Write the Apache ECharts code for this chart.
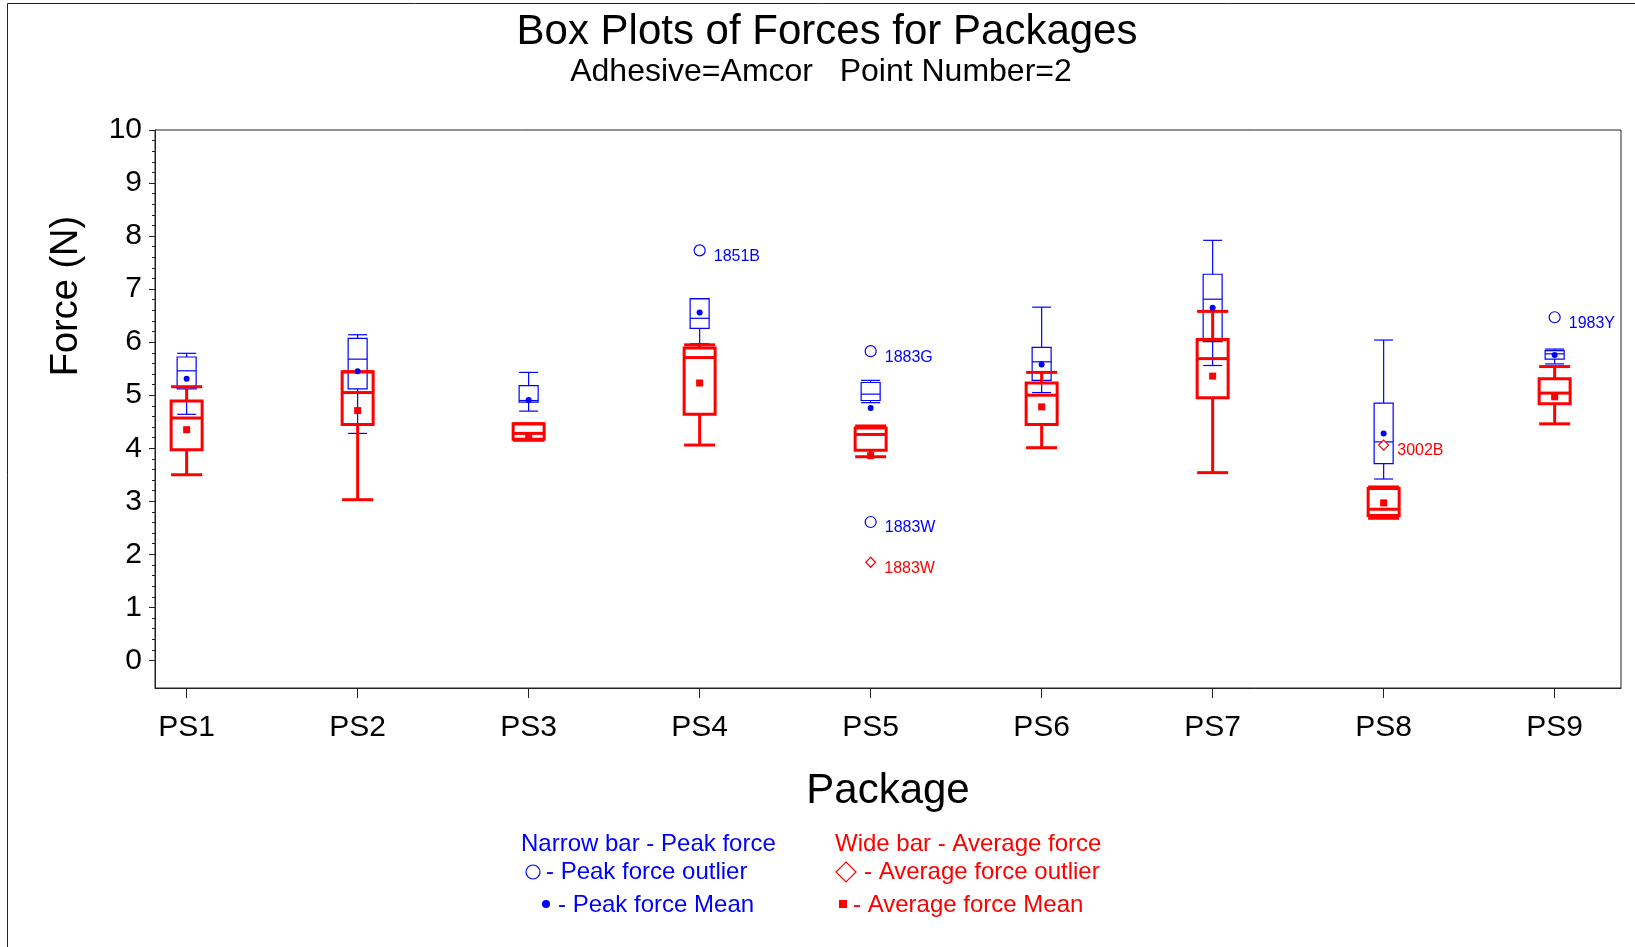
<!DOCTYPE html>
<html>
<head>
<meta charset="utf-8">
<title>Box Plots of Forces for Packages</title>
<script src="https://cdn.jsdelivr.net/npm/echarts@6/dist/echarts.min.js"></script>
<style>
html, body { margin: 0; padding: 0; background: #fff; }
#chart { width: 1635px; height: 947px; }
</style>
</head>
<body>
<div id="chart"></div>
<script>
var packages = ['PS1', 'PS2', 'PS3', 'PS4', 'PS5', 'PS6', 'PS7', 'PS8', 'PS9'];
var yTicks = [0, 1, 2, 3, 4, 5, 6, 7, 8, 9, 10];

// peak force (narrow blue bars): whisker low, Q1, median, Q3, whisker high, mean
var peakLow  = [4.64, 4.28, 4.70, 5.97, 4.86, 5.05, 5.56, 3.42, 5.59];
var peakQ1   = [5.12, 5.12, 4.87, 6.26, 4.90, 5.28, 6.01, 3.71, 5.68];
var peakMed  = [5.46, 5.68, 4.90, 6.45, 5.02, 5.63, 6.81, 4.12, 5.78];
var peakQ3   = [5.72, 6.07, 5.18, 6.82, 5.24, 5.90, 7.28, 4.85, 5.84];
var peakHigh = [5.79, 6.14, 5.43, 6.82, 5.28, 6.66, 7.92, 6.04, 5.87];
var peakMean = [5.31, 5.45, 4.91, 6.56, 4.76, 5.58, 6.65, 4.28, 5.76];

// average force (wide red bars)
var avgLow  = [3.50, 3.03, 4.15, 4.06, 3.84, 4.01, 3.54, 2.68, 4.46];
var avgQ1   = [3.97, 4.45, 4.17, 4.64, 3.96, 4.45, 4.95, 2.73, 4.84];
var avgMed  = [4.57, 5.05, 4.28, 5.71, 4.26, 5.00, 5.69, 2.85, 5.04];
var avgQ3   = [4.89, 5.44, 4.46, 5.89, 4.38, 5.23, 6.05, 3.24, 5.31];
var avgHigh = [5.16, 5.44, 4.46, 5.95, 4.42, 5.43, 6.58, 3.27, 5.54];
var avgMean = [4.35, 4.71, 4.23, 5.23, 3.86, 4.78, 5.36, 2.97, 4.97];

// outliers
var peakOutPkg = ['PS4', 'PS5', 'PS5', 'PS9'];
var peakOutVal = [7.73, 5.83, 2.61, 6.47];
var peakOutId  = ['1851B', '1883G', '1883W', '1983Y'];
var avgOutPkg = ['PS5', 'PS8'];
var avgOutVal = [1.85, 4.06];
var avgOutId  = ['1883W', '3002B'];

var BLUE = '#0000ff', RED = '#ff0000';
var FONT = '"Liberation Sans", Arial, Helvetica, sans-serif';

function boxRows(lo, q1, med, q3, hi) {
    return packages.map(function (p, i) {
        return [i + 1, lo[i], q1[i], med[i], q3[i], hi[i]];
    });
}

function outRows(pkg, val, ids) {
    return pkg.map(function (p, i) {
        return { value: [packages.indexOf(p) + 1, val[i]], name: ids[i] };
    });
}

function boxRender(halfW, lw, color) {
    return function (params, api) {
        var x = api.value(0);
        var lo = api.coord([x, api.value(1)]);
        var q1 = api.coord([x, api.value(2)]);
        var md = api.coord([x, api.value(3)]);
        var q3 = api.coord([x, api.value(4)]);
        var hi = api.coord([x, api.value(5)]);
        var cx = lo[0];
        var st = { stroke: color, lineWidth: lw, fill: null };
        function hline(y) {
            return { type: 'line', shape: { x1: cx - halfW, y1: y, x2: cx + halfW, y2: y }, style: st };
        }
        return {
            type: 'group',
            children: [
                { type: 'line', shape: { x1: cx, y1: lo[1], x2: cx, y2: q1[1] }, style: st },
                { type: 'line', shape: { x1: cx, y1: q3[1], x2: cx, y2: hi[1] }, style: st },
                hline(lo[1]),
                hline(hi[1]),
                { type: 'rect', shape: { x: cx - halfW, y: q3[1], width: halfW * 2, height: q1[1] - q3[1] }, style: st },
                hline(md[1])
            ]
        };
    };
}

var minorTicks = [];
yTicks.slice(0, -1).forEach(function (t) {
    [0.2, 0.4, 0.6, 0.8].forEach(function (f) { minorTicks.push(+(t + f).toFixed(1)); });
});
var xTicks = packages.map(function (p, i) { return i + 1; });

function legendText(x, y, text, color) {
    return { type: 'text', x: x, y: y, style: { text: text, fill: color, font: '24px ' + FONT, align: 'left', verticalAlign: 'middle' } };
}

var chart = echarts.init(document.getElementById('chart'));

var option = {
    backgroundColor: '#fff',
    animation: false,
    grid: { left: 155, right: 14, top: 130, bottom: 259, show: true, borderColor: '#222', borderWidth: 1 },
    xAxis: {
        type: 'value', min: 0.815, max: 9.388,
        name: 'Package', nameLocation: 'middle', nameGap: 82,
        nameTextStyle: { fontSize: 42, color: '#000', fontFamily: FONT },
        axisLine: { show: true, onZero: false, lineStyle: { color: '#222', width: 1 } },
        axisTick: { show: true, customValues: xTicks, length: 10, lineStyle: { color: '#222' } },
        axisLabel: {
            customValues: xTicks, margin: 25, fontSize: 30, color: '#000', fontFamily: FONT,
            formatter: function (v) { return packages[Math.round(v) - 1]; }
        },
        splitLine: { show: false }
    },
    yAxis: [{
        type: 'value', min: -0.52, max: 10,
        axisLine: { show: true, onZero: false, lineStyle: { color: '#222', width: 1 } },
        axisTick: { show: true, customValues: yTicks, length: 6, lineStyle: { color: '#222' } },
        axisLabel: { customValues: yTicks, margin: 13, fontSize: 30, color: '#000', fontFamily: FONT, padding: [4, 0, 0, 0] },
        splitLine: { show: false }
    }, {
        type: 'value', min: -0.52, max: 10, position: 'left',
        axisLine: { show: false, onZero: false },
        axisTick: { show: true, customValues: minorTicks, length: 3, lineStyle: { color: '#222' } },
        axisLabel: { show: false },
        splitLine: { show: false }
    }],
    series: [
        {
            name: 'Peak force', type: 'custom', z: 2,
            renderItem: boxRender(9.5, 1.2, BLUE),
            data: boxRows(peakLow, peakQ1, peakMed, peakQ3, peakHigh)
        },
        {
            name: 'Average force', type: 'custom', z: 3,
            renderItem: boxRender(15.5, 3, RED),
            data: boxRows(avgLow, avgQ1, avgMed, avgQ3, avgHigh)
        },
        {
            name: 'Peak force Mean', type: 'scatter', z: 5, symbol: 'circle', symbolSize: 6,
            itemStyle: { color: BLUE, opacity: 1 },
            data: packages.map(function (p, i) { return [i + 1, peakMean[i]]; })
        },
        {
            name: 'Average force Mean', type: 'scatter', z: 5, symbol: 'rect', symbolSize: 7,
            itemStyle: { color: RED, opacity: 1 },
            data: packages.map(function (p, i) { return [i + 1, avgMean[i]]; })
        },
        {
            name: 'Peak force outlier', type: 'scatter', z: 5, symbol: 'circle', symbolSize: 11,
            itemStyle: { color: '#fff', borderColor: BLUE, borderWidth: 1.2, opacity: 1 },
            label: { show: true, position: 'right', distance: 8, offset: [0, 6], formatter: '{b}', color: BLUE, fontSize: 16, fontFamily: FONT },
            data: outRows(peakOutPkg, peakOutVal, peakOutId)
        },
        {
            name: 'Average force outlier', type: 'scatter', z: 5, symbol: 'diamond', symbolSize: 10,
            itemStyle: { color: '#fff', borderColor: RED, borderWidth: 1.2, opacity: 1 },
            label: { show: true, position: 'right', distance: 8, offset: [0, 6], formatter: '{b}', color: RED, fontSize: 16, fontFamily: FONT },
            data: outRows(avgOutPkg, avgOutVal, avgOutId)
        }
    ],
    graphic: [
        // page border
        { type: 'line', shape: { x1: 7.5, y1: 3.5, x2: 7.5, y2: 947 }, style: { stroke: '#222', lineWidth: 1 } },
        { type: 'line', shape: { x1: 7.5, y1: 3.5, x2: 1635, y2: 3.5 }, style: { stroke: '#222', lineWidth: 1 } },
        // titles
        { type: 'text', x: 827, y: 32, style: { text: 'Box Plots of Forces for Packages', fill: '#000', font: '42px ' + FONT, align: 'center', verticalAlign: 'middle' } },
        { type: 'text', x: 821, y: 72, style: { text: 'Adhesive=Amcor   Point Number=2', fill: '#000', font: '32px ' + FONT, align: 'center', verticalAlign: 'middle' } },
        // y axis title
        { type: 'text', x: 67, y: 296, rotation: Math.PI / 2, style: { text: 'Force (N)', fill: '#000', font: '38px ' + FONT, align: 'center', verticalAlign: 'middle' } },
        // footnote legend
        legendText(521, 844, 'Narrow bar - Peak force', BLUE),
        legendText(835, 844, 'Wide bar - Average force', RED),
        { type: 'circle', shape: { cx: 533, cy: 872, r: 7 }, style: { fill: '#fff', stroke: BLUE, lineWidth: 1.2 } },
        legendText(546, 872, '- Peak force outlier', BLUE),
        { type: 'polygon', shape: { points: [[846, 862], [856, 872], [846, 882], [836, 872]] }, style: { fill: '#fff', stroke: RED, lineWidth: 1.2 } },
        legendText(864, 872, '- Average force outlier', RED),
        { type: 'circle', shape: { cx: 546, cy: 904, r: 4 }, style: { fill: BLUE } },
        legendText(558, 905, '- Peak force Mean', BLUE),
        { type: 'rect', shape: { x: 839, y: 900, width: 8, height: 8 }, style: { fill: RED } },
        legendText(853, 905, '- Average force Mean', RED)
    ]
};

chart.setOption(option);
</script>
</body>
</html>
